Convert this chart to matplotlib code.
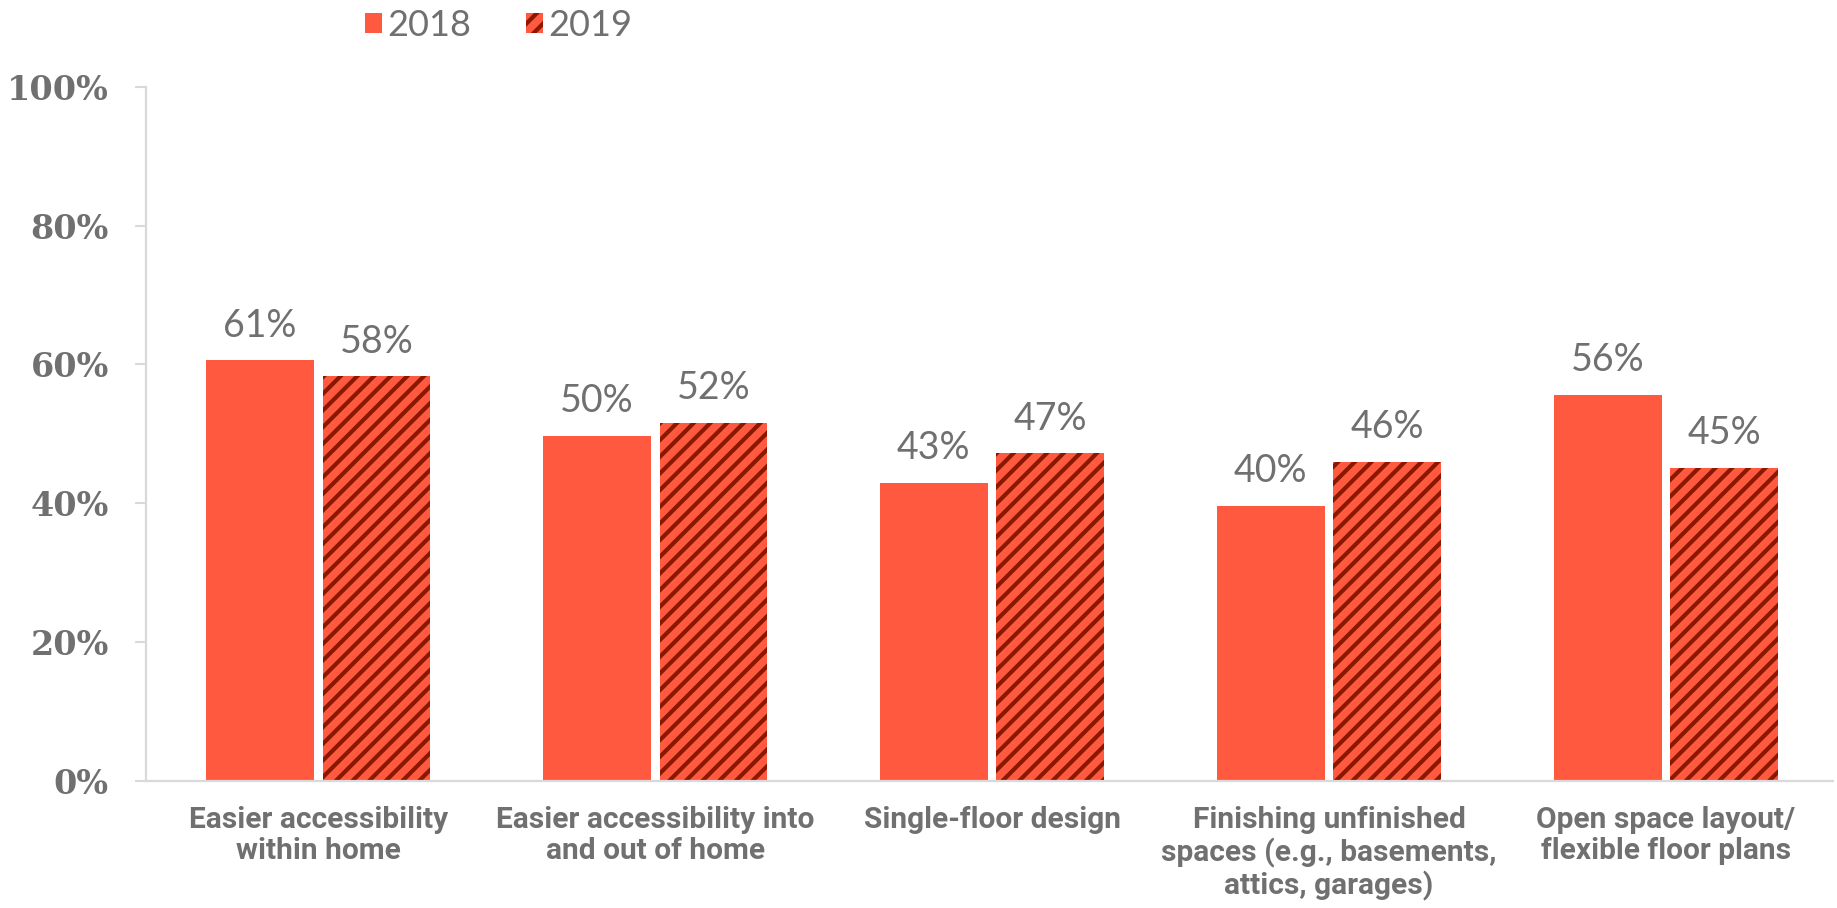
import numpy as np
import matplotlib.pyplot as plt
from matplotlib.patches import Patch

categories = [
    "Easier accessibility\nwithin home",
    "Easier accessibility into\nand out of home",
    "Single-floor design",
    "Finishing unfinished\nspaces (e.g., basements,\nattics, garages)",
    "Open space layout/\nflexible floor plans",
]
share_2018 = [60.6, 49.7, 42.9, 39.6, 55.6]
share_2019 = [58.3, 51.6, 47.2, 46.0, 45.1]
years = ["2018", "2019"]

orange = "#FF5A40"
dark_red = "#8A1800"
gray = "#707070"
axis_gray = "#D9D9D9"

plt.rcParams["hatch.linewidth"] = 3.0
plt.rcParams["hatch.color"] = dark_red

fig = plt.figure(figsize=(18.37, 9.08), dpi=100)
ax = fig.add_axes([0.0797, 0.1399, 0.918, 0.7646])

x = np.arange(len(categories))
w = 0.32
off = 0.173

b1 = ax.bar(x - off, share_2018, w, color=orange, linewidth=0)
b2 = ax.bar(x + off, share_2019, w, color=orange, hatch="//", edgecolor=dark_red, linewidth=0)

for bars in (b1, b2):
    ax.bar_label(bars, labels=[f"{round(v)}%" for v in bars.datavalues], padding=12,
                 fontsize=27, color=gray, family="Lato", fontweight="normal")

ax.set_xlim(-0.51, 4.495)
ax.set_ylim(0, 100)
ax.set_yticks(np.arange(0, 101, 20))
ax.set_yticklabels([f"{t}%" for t in range(0, 101, 20)], family="DejaVu Serif",
                   fontweight="bold", fontsize=24, color=gray)
ax.set_xticks(x)
ax.set_xticklabels(categories, family="Roboto", fontweight="bold", fontsize=21.5,
                   color=gray, linespacing=1.15, va="top")

ax.tick_params(axis="y", length=8, width=1.5, color=axis_gray, pad=19)
ax.tick_params(axis="x", length=0, pad=18)

for s in ("top", "right"):
    ax.spines[s].set_visible(False)
for s in ("left", "bottom"):
    ax.spines[s].set_color(axis_gray)
    ax.spines[s].set_linewidth(1.6)

handles = [
    Patch(facecolor=orange, linewidth=0),
    Patch(facecolor=orange, hatch="//", edgecolor=dark_red, linewidth=0),
]
leg = fig.legend(handles, years, loc="center left", bbox_to_anchor=(0.181, 0.972), ncol=2,
                 frameon=False, handlelength=0.48, handleheight=0.48, handletextpad=0.15,
                 columnspacing=1.5, prop={"family": "Lato", "weight": "normal", "size": 26})
for t in leg.get_texts():
    t.set_color(gray)

fig.savefig("out.png", dpi=100)
